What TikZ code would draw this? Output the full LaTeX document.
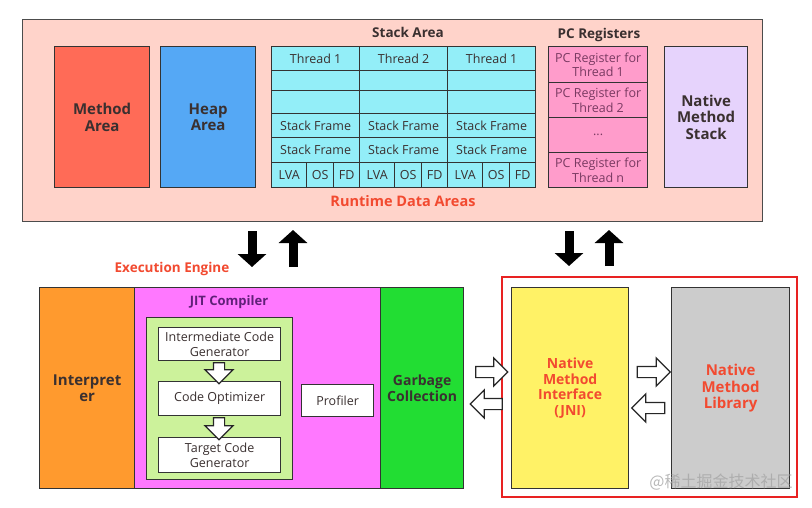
\documentclass[tikz,border=0pt]{standalone}
\usepackage{fontspec}
\setmainfont{Open Sans}
\newfontfamily\cjk{Noto Sans CJK SC}
\usetikzlibrary{shapes.arrows,arrows.meta}
\definecolor{pinkbg}{HTML}{FFD3CA}
\definecolor{methodc}{HTML}{FF6B57}
\definecolor{heapc}{HTML}{55A8F5}
\definecolor{cyanc}{HTML}{93EEF8}
\definecolor{pcc}{HTML}{FF9CCB}
\definecolor{pctext}{HTML}{7A3A62}
\definecolor{nmsc}{HTML}{E6D3FC}
\definecolor{interpc}{HTML}{FF9A2E}
\definecolor{jitc}{HTML}{FF78FF}
\definecolor{jittext}{HTML}{602078}
\definecolor{greenin}{HTML}{CCF29B}
\definecolor{gcc}{HTML}{22DD33}
\definecolor{jnic}{HTML}{FFF266}
\definecolor{libc}{HTML}{CCCCCC}
\definecolor{redtxt}{HTML}{F24A30}
\definecolor{redbox}{HTML}{E82222}
\definecolor{edge}{HTML}{333333}
\definecolor{dtext}{HTML}{3A3030}
\newcommand\bx[7]{\node[box,#6,minimum width={(#4)-(#2)},minimum height={(#5)-(#3)}] (#1) at (#2,#3) {#7};}
\begin{document}
\begin{tikzpicture}[x=1pt,y=-1pt,
  box/.style={draw=edge, line width=1.3pt, anchor=north west, inner sep=0pt, align=center, text=dtext},
  txt/.style={font=\fontsize{12.5}{14.5}\selectfont},
  big/.style={font=\fontsize{15}{16.5}\selectfont\bfseries},
  title/.style={font=\fontsize{13.5}{15}\selectfont\bfseries, text=dtext},
  blackarrow/.style={line width=9pt, -{Triangle[width=28pt,length=13pt]}},
  hollow/.style={single arrow, draw=black!85, fill=white, line width=1.2pt, inner sep=5pt,
     single arrow head extend=8.5pt, single arrow head indent=0pt}
]
\useasboundingbox (0,0) rectangle (812,507);
\fill[white] (0,0) rectangle (812,507);

% Runtime data areas
\bx{rda}{22}{19}{762}{221}{fill=pinkbg, draw=black!70}{}
\bx{method}{54}{46}{149}{187}{fill=methodc, big}{Method\\Area}
\bx{heap}{160}{46}{255}{187}{fill=heapc, big}{Heap\\Area}
\node[title] (stitle) at (408,32) {Stack Area};
\foreach \i/\x/\t in {1/271/Thread 1,2/359/Thread 2,3/447/Thread 1}{
  \bx{th\i}{\x}{46}{\x+88}{70}{fill=cyanc, txt}{\t}
  \bx{ea\i}{\x}{70}{\x+88}{90}{fill=cyanc}{}
  \bx{eb\i}{\x}{90}{\x+88}{113}{fill=cyanc}{}
  \bx{sfa\i}{\x}{113}{\x+88}{137}{fill=cyanc, txt}{Stack Frame}
  \bx{sfb\i}{\x}{137}{\x+88}{162}{fill=cyanc, txt}{Stack Frame}
  \bx{lva\i}{\x}{162}{\x+35}{187}{fill=cyanc, txt}{LVA}
  \bx{os\i}{\x+35}{162}{\x+62}{187}{fill=cyanc, txt}{OS}
  \bx{fd\i}{\x+62}{162}{\x+88}{187}{fill=cyanc, txt}{FD}
}
\node[title] (ptitle) at (599,35) {PC Registers};
\bx{pc1}{548}{46}{647}{82}{fill=pcc, txt, text=pctext}{PC Register for\\Thread 1}
\bx{pc2}{548}{82}{647}{117}{fill=pcc, txt, text=pctext}{PC Register for\\Thread 2}
\bx{pc3}{548}{117}{647}{152}{fill=pcc, txt, text=pctext}{...}
\bx{pc4}{548}{152}{647}{187}{fill=pcc, txt, text=pctext}{PC Register for\\Thread n}
\bx{nms}{664}{46}{747}{187}{fill=nmsc, big}{Native\\Method\\Stack}
\node[font=\fontsize{14.5}{16}\selectfont\bfseries, text=redtxt] (rdalabel) at (403,201) {Runtime Data Areas};

% black arrows
\coordinate (a1s) at (252,231); \coordinate (a1e) at (252,267);
\coordinate (a2s) at (293,267); \coordinate (a2e) at (293,230);
\coordinate (a3s) at (569,231); \coordinate (a3e) at (569,266);
\coordinate (a4s) at (609,266); \coordinate (a4e) at (609,230);
\draw[blackarrow] (a1s) -- (a1e);
\draw[blackarrow] (a2s) -- (a2e);
\draw[blackarrow] (a3s) -- (a3e);
\draw[blackarrow] (a4s) -- (a4e);

% Execution engine
\node[font=\fontsize{13.5}{15}\selectfont\bfseries, text=redtxt] (eelabel) at (172,269) {Execution Engine};
\bx{interp}{39}{287}{134}{488}{fill=interpc, big}{Interpret\\er}
\bx{jit}{134}{287}{380}{488}{fill=jitc}{}
\node[font=\fontsize{13}{14}\selectfont\bfseries, text=jittext] (jtitle) at (229,302) {JIT Compiler};
\bx{green}{146}{317}{292}{479}{fill=greenin}{}
\bx{icg}{158}{327}{280}{360}{fill=white, txt}{Intermediate Code\\Generator}
\bx{opt}{158}{381}{280}{415}{fill=white, txt}{Code Optimizer}
\bx{tcg}{158}{437}{280}{472}{fill=white, txt}{Target Code\\Generator}
\bx{prof}{301}{384}{373}{416}{fill=white, txt}{Profiler}
\bx{gc}{380}{287}{463}{488}{fill=gcc, font=\fontsize{14}{15.5}\selectfont\bfseries}{Garbage\\Collection}
\node[hollow, minimum height=21pt, shape border rotate=270] (h1) at (219,370.5) {};
\node[hollow, minimum height=22pt, shape border rotate=270] (h2) at (219,426) {};

% Native side
\bx{jni}{511}{287}{628}{488}{fill=jnic, font=\fontsize{14}{15.5}\selectfont\bfseries, text=redtxt}{Native\\Method\\Interface\\(JNI)}
\bx{lib}{671}{287}{789}{488}{fill=libc, big, text=redtxt}{Native\\Method\\Library}
\draw[redbox, line width=2.6pt] (502,277) rectangle (797,497);
\node[hollow, minimum height=32pt] (h3) at (489,372) {};
\node[hollow, minimum height=32pt, shape border rotate=180] (h4) at (489,404) {};
\node[hollow, minimum height=33pt] (h5) at (651,372) {};
\node[hollow, minimum height=33pt, shape border rotate=180] (h6) at (651,408) {};
\node[font=\cjk\fontsize{16}{18}\selectfont, text=black!35, opacity=0.8] (wm) at (721,482) {@稀土掘金技术社区};
\end{tikzpicture}
\end{document}
